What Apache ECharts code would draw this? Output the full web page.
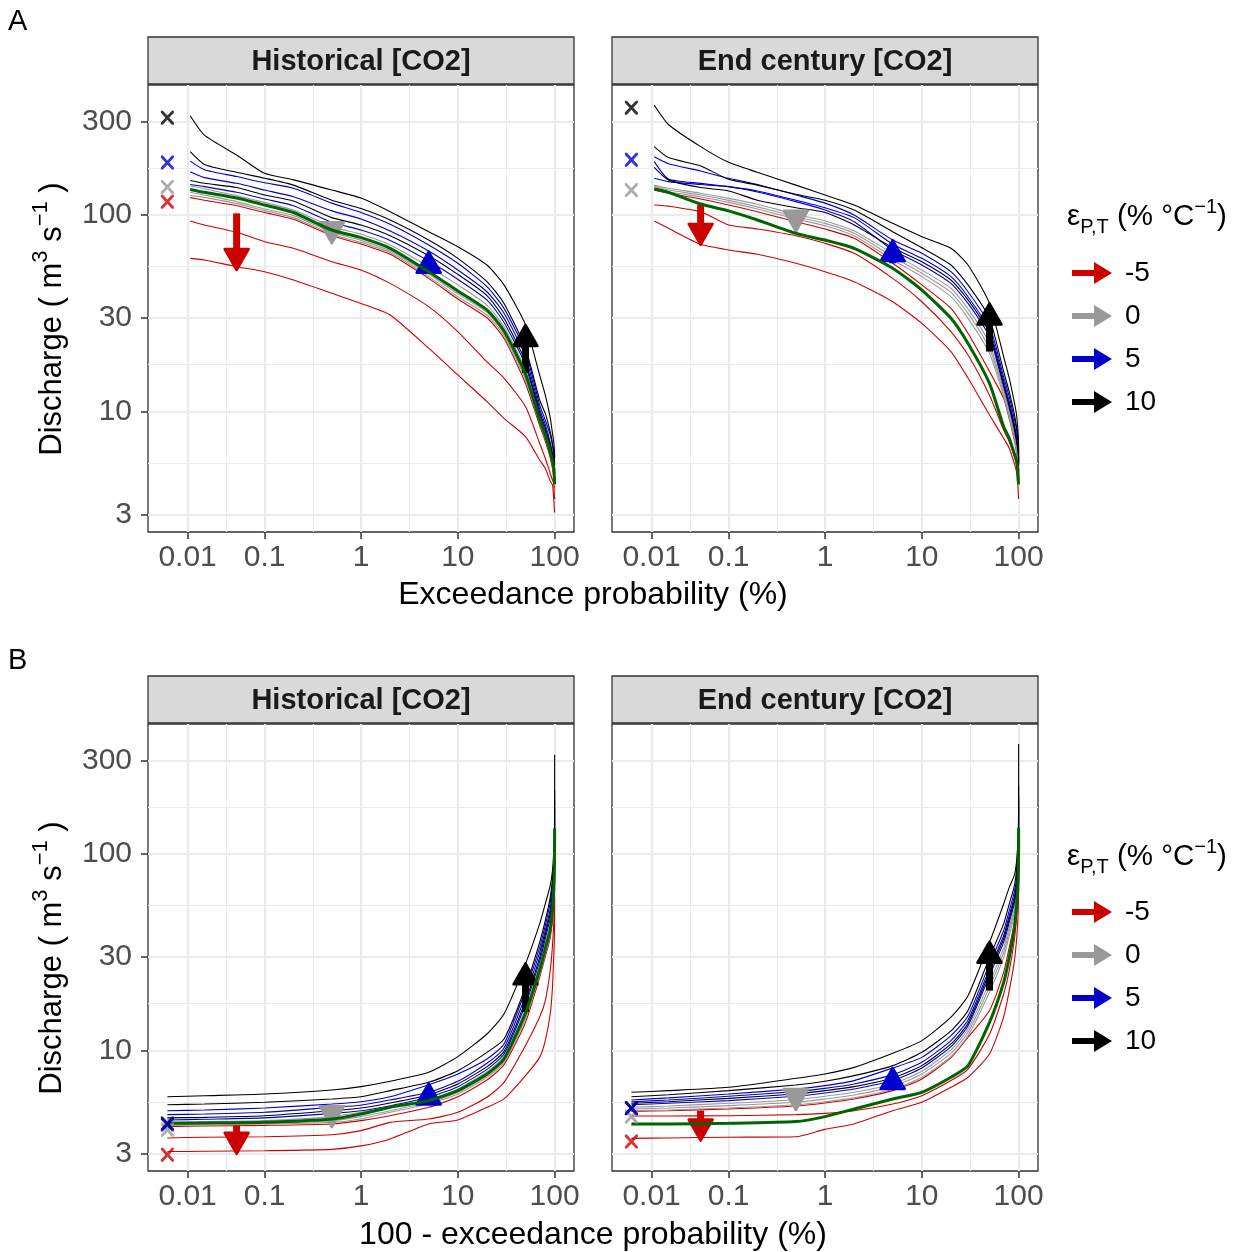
<!DOCTYPE html>
<html>
<head>
<meta charset="utf-8">
<script src="https://cdn.jsdelivr.net/npm/echarts@6/dist/echarts.min.js"></script>
<style>
  html, body { margin: 0; padding: 0; background: #ffffff; }
  #chart { width: 1237px; height: 1252px; }
</style>
</head>
<body>
<div id="chart"></div>
<script>
// Flow-duration curves: discharge (m3/s) at each exceedance probability (%).
// Panel A plots them against p, panel B against 100 - p.
const probs = [0.0114, 0.02, 0.05, 0.1, 0.2, 0.5, 1, 2, 5, 10, 20, 30, 50, 70, 80, 90, 95, 98, 99, 99.5, 99.9, 99.98, 100];

// Historical [CO2]
const histBase = [135, 130.5, 122, 112.5, 103, 83.9, 76.7, 67.7, 51.5, 41.1, 32.9, 25.7, 15.5, 9.06, 7.60, 6.25, 5.56, 5.14, 4.75, 4.48, 4.31, 4.28, 4.26];
const histEps10a = [320, 255, 202, 163, 151, 134, 122, 104, 82.3, 69.0, 55.7, 44.1, 27.6, 15.35, 12.14, 9.31, 7.75, 6.97, 6.55, 6.30, 6.01, 5.89, 5.82];
const histEps10b = [210, 181, 165, 154, 142, 119, 108, 94.4, 74.6, 60.2, 45.8, 35.5, 21.0, 11.45, 9.79, 7.90, 6.89, 6.25, 5.82, 5.67, 5.45, 5.34, 5.30];
const histEps10c = [150, 145, 138, 126.5, 118, 97.0, 89.0, 78.5, 62.1, 49.9, 38.9, 29.8, 17.9, 9.9, 8.28, 6.76, 5.94, 5.41, 5.10, 4.94, 4.66, 4.57, 4.54];
const histEps5a = [188, 170, 157, 146, 137, 115, 103, 89.7, 70.4, 56.8, 43.2, 33.5, 20.2, 10.8, 9.06, 7.6, 6.7, 5.82, 5.49, 5.34, 5.10, 4.98, 4.94];
const histEps5b = [166, 155, 145, 134, 124, 105, 95.5, 82.9, 65.6, 52.5, 40.7, 31.6, 19.0, 10.3, 8.61, 6.97, 6.13, 5.60, 5.27, 5.14, 4.85, 4.75, 4.72];
const histEps5c = [143, 139.5, 130.5, 120.7, 111.6, 91.8, 83.9, 74.3, 58.4, 47.1, 37.0, 28.4, 17.2, 9.60, 8.02, 6.55, 5.78, 5.24, 4.94, 4.79, 4.54, 4.47, 4.43];
const histEps0a = [141, 136, 125.5, 116, 106, 87.3, 79.8, 70.4, 54.6, 44.1, 34.8, 27.0, 16.3, 9.31, 7.81, 6.37, 5.60, 5.14, 4.85, 4.61, 4.40, 4.35, 4.31];
const histEps0b = [130.5, 126.5, 117, 107.3, 99.3, 81.7, 74.3, 65.6, 49.9, 39.7, 32.0, 25.0, 15.0, 8.88, 7.45, 6.13, 5.45, 4.94, 4.61, 4.40, 4.26, 4.23, 4.20];
const histEps0c = [125.5, 123, 114.3, 105.3, 97.0, 79.8, 72.6, 64.4, 48.6, 38.4, 31.0, 24.3, 14.5, 8.71, 7.31, 6.01, 5.34, 4.85, 4.48, 4.31, 4.23, 4.18, 4.15];
const histEpsM5a = [122.6, 119, 111.6, 103, 95.1, 78.5, 71.2, 63.1, 47.6, 37.4, 30.0, 23.6, 13.9, 8.48, 7.08, 5.82, 5.14, 4.66, 4.40, 4.23, 4.16, 4.13, 4.10];
const histEpsM5b = [93.3, 89.0, 81.7, 73.2, 67.7, 57.9, 52.5, 44.9, 34.2, 25.5, 17.9, 14.8, 10.6, 6.89, 5.78, 4.85, 4.48, 4.31, 3.91, 3.73, 3.64, 3.62, 3.59];
const histEpsM5c = [60.2, 59.1, 54.6, 51.5, 46.7, 40.0, 35.5, 31.0, 21.0, 15.35, 11.23, 9.23, 7.45, 5.67, 5.14, 4.43, 4.23, 3.55, 3.27, 3.14, 3.09, 3.07, 3.06];

// End century [CO2]
const endBase = [136, 130.5, 113.8, 105, 94.4, 80.7, 74.6, 67.7, 53.6, 41.5, 29.8, 22.2, 13.9, 8.38, 7.31, 6.13, 5.67, 5.04, 4.61, 4.35, 4.26, 4.23, 4.23];
const endEps10a = [363, 289, 223, 185.4, 165, 142, 126.5, 112.5, 90.7, 77.6, 67.7, 55.7, 35.5, 19.0, 14.8, 11.23, 9.68, 8.21, 7.60, 7.22, 6.50, 6.25, 6.13];
const endEps10b = [223, 196, 177.7, 152, 142, 127.5, 119, 106, 82.3, 68.2, 55.7, 44.1, 29.8, 16.0, 12.6, 9.79, 8.38, 7.45, 6.97, 6.68, 6.25, 5.96, 5.82];
const endEps10c = [175, 151, 138, 132.6, 119, 109, 103, 89.0, 68.2, 57.9, 46.7, 37.0, 25.0, 13.76, 10.8, 8.38, 7.25, 6.55, 6.25, 6.01, 5.71, 5.49, 5.39];
const endEps5a = [198, 182.6, 167.5, 153.8, 143, 126.5, 115, 100, 74.6, 63.9, 51.5, 40.7, 27.6, 15.0, 11.9, 9.23, 8.15, 7.03, 6.63, 6.37, 6.01, 5.74, 5.60];
const endEps5b = [186.9, 152.6, 145, 139.5, 132.6, 119, 109, 97.0, 71.0, 60.2, 48.6, 38.4, 26.0, 14.3, 11.23, 8.71, 7.54, 6.76, 6.42, 6.18, 5.85, 5.60, 5.49];
const endEps5c = [153.8, 147.9, 143, 139.5, 131, 117, 106, 92.5, 66.4, 55.7, 44.9, 35.5, 24.0, 13.38, 10.47, 8.15, 7.03, 6.37, 6.08, 5.85, 5.56, 5.39, 5.30];
const endEps0a = [142, 136.8, 129, 121.6, 113.4, 100.8, 93.3, 82.9, 63.9, 52.5, 42.4, 33.3, 22.2, 12.87, 10.07, 7.84, 6.76, 6.13, 5.85, 5.62, 5.39, 5.22, 5.14];
const endEps0b = [140, 134, 126.5, 118.8, 110, 98.1, 90.7, 80.7, 61.4, 50.5, 40.4, 31.6, 21.0, 12.38, 9.68, 7.60, 6.55, 5.94, 5.67, 5.45, 5.24, 5.10, 5.04];
const endEps0c = [137.3, 131.5, 123.5, 116, 107.3, 95.5, 88.3, 78.5, 59.1, 48.6, 38.4, 29.8, 19.8, 11.91, 9.31, 7.31, 6.35, 5.74, 5.49, 5.30, 5.10, 4.98, 4.94];
const endEpsM5a = [133.6, 129, 120.7, 112.5, 104, 92.5, 84.9, 76.1, 56.8, 44.1, 33.5, 25.0, 16.0, 11.67, 9.2, 7.17, 6.25, 5.67, 5.41, 5.22, 5.04, 4.94, 4.90];
const endEpsM5b = [112.5, 111, 104, 89.0, 84.9, 78.5, 71.8, 63.9, 47.6, 36.2, 25.5, 19.4, 12.1, 8.05, 7.03, 5.89, 5.34, 4.94, 4.79, 4.72, 4.66, 4.64, 4.64];
const endEpsM5c = [93.3, 85.6, 71, 66.4, 63.1, 56.8, 51.5, 45.8, 36.2, 28.1, 20.2, 14.8, 9.60, 7.31, 6.50, 5.45, 4.94, 4.23, 3.97, 3.64, 3.62, 3.59, 3.57];

// Arrows (per elasticity -5, 0, 5, 10): x position and discharge at tail / head
const arrowX = [0.05, 0.5, 5, 50];
const arrowFromHistA = [102, 83.9, 51.5, 15.7];
const arrowToHistA = [52.5, 71.8, 65.1, 27.6];
const arrowFromEndA = [112.5, 98, 56.8, 20.2];
const arrowToEndA = [70.4, 82.3, 74.6, 35.5];
const arrowFromHistB = [4.15, 4.40, 5.56, 15.7];
const arrowToHistB = [2.98, 4.07, 6.8, 27.8];
const arrowFromEndB = [4.94, 5.5, 6.30, 20.2];
const arrowToEndB = [3.48, 4.98, 8.15, 35.8];

// "x" markers at x = 0 (per elasticity -5, 0, 5, 10)
const crossHistA = [117, 139, 185, 313];
const crossEndA = [null, 134, 191, 352];
const crossHistB = [2.95, 3.95, 4.2, 4.25];
const crossEndB = [3.44, 4.61, 5.08, 5.1];

// Axis breaks
const xMajor = [0.01, 0.1, 1, 10, 100];
const xMajorLabels = ['0.01', '0.1', '1', '10', '100'];
const yMajor = [3, 10, 30, 100, 300];
const yMajorLabels = ['3', '10', '30', '100', '300'];

const epsNames = ['-5', '0', '5', '10'];
const epsColors = ['#CD0000', '#999999', '#0000CD', '#000000'];
const baseColor = '#006400';

const FONT = '"Liberation Sans", Arial, Helvetica, sans-serif';

// Pseudo-log x scale (sigma = 0.01): log-like above ~0.05 %, linear through 0.
const SIGMA = 0.01;
const pl = x => Math.asinh(x / (2 * SIGMA)) / Math.LN10;
const xMin = pl(0) - 0.05 * (pl(100) - pl(0));
const xMax = pl(100) + 0.05 * (pl(100) - pl(0));
const xMajorT = xMajor.map(pl);
const xMinorT = xMajorT.slice(1).map((t, i) => (xMajorT[i] + t) / 2);
// log y scale
const yMin = 2.437, yMax = 459;
const yMinor = yMajor.slice(1).map((v, i) => Math.sqrt(v * yMajor[i]));

const panels = [
  { left: 148, top: 85, curves: 'hist', mirror: false, showY: true,
    arrowFrom: arrowFromHistA, arrowTo: arrowToHistA, cross: crossHistA },
  { left: 612, top: 85, curves: 'end', mirror: false, showY: false,
    arrowFrom: arrowFromEndA, arrowTo: arrowToEndA, cross: crossEndA },
  { left: 148, top: 724, curves: 'hist', mirror: true, showY: true,
    arrowFrom: arrowFromHistB, arrowTo: arrowToHistB, cross: crossHistB },
  { left: 612, top: 724, curves: 'end', mirror: true, showY: false,
    arrowFrom: arrowFromEndB, arrowTo: arrowToEndB, cross: crossEndB }
];
const PW = 426, PH = 447;

const curveSets = {
  hist: {
    base: histBase,
    groups: [[histEpsM5a, histEpsM5b, histEpsM5c], [histEps0a, histEps0b, histEps0c],
             [histEps5a, histEps5b, histEps5c], [histEps10a, histEps10b, histEps10c]]
  },
  end: {
    base: endBase,
    groups: [[endEpsM5a, endEpsM5b, endEpsM5c], [endEps0a, endEps0b, endEps0c],
             [endEps5a, endEps5b, endEps5c], [endEps10a, endEps10b, endEps10c]]
  }
};

const grids = [], xAxes = [], yAxes = [], series = [];
const gridLineColor = '#EBEBEB';
const tickStyle = { color: '#333333', width: 1.5 };
const SMOOTH = 0.2;

panels.forEach((pn, i) => {
  grids.push({ left: pn.left, top: pn.top, width: PW, height: PH, show: true,
    borderColor: '#333333', borderWidth: 1.3, backgroundColor: '#ffffff', containLabel: false });
  const xi = xAxes.length;
  xAxes.push({
    gridIndex: i, type: 'value', min: xMin, max: xMax, position: 'bottom',
    axisLine: { show: false, onZero: false },
    axisTick: { show: true, customValues: xMajorT, length: 7, lineStyle: tickStyle },
    axisLabel: { customValues: xMajorT, margin: 11, fontSize: 30, color: '#4D4D4D', fontFamily: FONT,
      formatter: v => { const k = xMajorT.findIndex(t => Math.abs(t - v) < 1e-6); return k >= 0 ? xMajorLabels[k] : ''; } },
    splitLine: { show: true, lineStyle: { color: gridLineColor, width: 2.2 } }
  });
  xAxes.push({
    gridIndex: i, type: 'value', min: xMin, max: xMax, position: 'bottom',
    axisLine: { show: false, onZero: false }, axisLabel: { show: false },
    axisTick: { show: false, customValues: xMinorT },
    splitLine: { show: true, lineStyle: { color: gridLineColor, width: 1.1 } }
  });
  const yi = yAxes.length;
  yAxes.push({
    gridIndex: i, type: 'log', logBase: 10, min: yMin, max: yMax, position: 'left',
    axisLine: { show: false, onZero: false },
    axisTick: { show: pn.showY, customValues: yMajor, length: 7, lineStyle: tickStyle },
    axisLabel: { show: pn.showY, customValues: yMajor, margin: 16, fontSize: 30, color: '#4D4D4D', fontFamily: FONT,
      formatter: v => { const k = yMajor.findIndex(t => Math.abs(t - v) / t < 1e-6); return k >= 0 ? yMajorLabels[k] : ''; } },
    splitLine: { show: true, lineStyle: { color: gridLineColor, width: 2.2 } }
  });
  yAxes.push({
    gridIndex: i, type: 'log', logBase: 10, min: yMin, max: yMax, position: 'right',
    axisLine: { show: false, onZero: false }, axisLabel: { show: false },
    axisTick: { show: false, customValues: yMinor },
    splitLine: { show: true, lineStyle: { color: gridLineColor, width: 1.1 } }
  });

  const xOf = p => pl(pn.mirror ? 100 - p : p);
  const set = curveSets[pn.curves];
  // scenario curves
  set.groups.forEach((grp, g) => {
    grp.forEach((vals) => {
      series.push({
        type: 'line', name: epsNames[g] + ' curve', xAxisIndex: xi, yAxisIndex: yi,
        data: probs.map((p, k) => [xOf(p), vals[k]]),
        symbol: 'none', showSymbol: false, silent: true, z: 2, smooth: SMOOTH,
        lineStyle: { color: epsColors[g], width: 1.1 }
      });
    });
  });
  // arrows
  epsNames.forEach((nm, g) => {
    series.push({
      type: 'custom', name: nm, xAxisIndex: xi, yAxisIndex: yi, z: 3, silent: true,
      itemStyle: { color: epsColors[g] },
      data: [[pl(arrowX[g]), pn.arrowFrom[g], pn.arrowTo[g]]],
      encode: { x: 0, y: [1, 2] },
      renderItem: (params, api) => {
        const x = api.value(0);
        const a = api.coord([x, api.value(1)]);
        const b = api.coord([x, api.value(2)]);
        const dx = b[0] - a[0], dy = b[1] - a[1];
        const len = Math.hypot(dx, dy) || 1;
        const ux = dx / len, uy = dy / len;
        const H = 21, W = 12;
        const base = [b[0] - ux * H, b[1] - uy * H];
        const nx = -uy, ny = ux;
        const color = api.visual('color');
        const children = [];
        if (len > H) {
          children.push({ type: 'line', shape: { x1: a[0], y1: a[1], x2: base[0] + ux * 3, y2: base[1] + uy * 3 },
            style: { stroke: color, lineWidth: 7, lineCap: 'butt' } });
        }
        children.push({ type: 'polygon',
          shape: { points: [b, [base[0] + nx * W, base[1] + ny * W], [base[0] - nx * W, base[1] - ny * W]] },
          style: { fill: color, stroke: color, lineWidth: 2.5, lineJoin: 'round' } });
        return { type: 'group', children };
      }
    });
  });
  // baseline curve
  series.push({
    type: 'line', name: 'baseline', xAxisIndex: xi, yAxisIndex: yi,
    data: probs.map((p, k) => [xOf(p), set.base[k]]),
    symbol: 'none', showSymbol: false, silent: true, z: 4, smooth: SMOOTH,
    lineStyle: { color: baseColor, width: 3 }
  });
  // x markers
  [0, 1, 3, 2].forEach(g => {
    if (pn.cross[g] == null) return;
    series.push({
      type: 'scatter', name: epsNames[g] + ' x', xAxisIndex: xi, yAxisIndex: yi, z: 5, silent: true,
      data: [[pl(0), pn.cross[g]]],
      symbol: 'path://M0,0 L3,0 L10,7 L17,0 L20,0 L20,3 L13,10 L20,17 L20,20 L17,20 L10,13 L3,20 L0,20 L0,17 L7,10 L0,3 Z',
      symbolSize: [13, 14],
      itemStyle: { color: epsColors[g] }
    });
  });
});

const arrowIcon = 'path://M0,8 L22,8 L22,0 L40,11 L22,22 L22,14 L0,14 Z';
const legendData = epsNames.map((nm, g) => ({ name: nm, icon: arrowIcon, itemStyle: { color: epsColors[g] } }));
const legendBase = {
  orient: 'vertical', left: 1072, padding: 0, itemWidth: 40, itemHeight: 23, itemGap: 15,
  selectedMode: false, data: legendData,
  textStyle: { fontSize: 28, fontFamily: FONT, color: '#000000', padding: [0, 0, 0, 8] }
};

function legendTitle(y) {
  return {
    type: 'text', x: 1067, y: y,
    style: {
      text: '{m|ε}{s|P,T}{m| (% °C}{u|−1}{m|)}',
      fontFamily: FONT, fontSize: 29, fill: '#000', verticalAlign: 'middle',
      rich: {
        m: { fontSize: 29.5, fontFamily: FONT, lineHeight: 40, verticalAlign: 'middle' },
        s: { fontSize: 20, fontFamily: FONT, lineHeight: 20, verticalAlign: 'bottom' },
        u: { fontSize: 20, fontFamily: FONT, lineHeight: 20, verticalAlign: 'top' }
      }
    }
  };
}
function yTitle(cy) {
  return {
    type: 'text', x: 52, y: cy, rotation: Math.PI / 2,
    style: {
      text: '{m|Discharge ( m}{u|3}{m| s}{u|−1}{m| )}',
      fontFamily: FONT, fontSize: 31, fill: '#000', align: 'center', verticalAlign: 'middle',
      rich: {
        m: { fontSize: 31, fontFamily: FONT, lineHeight: 44, verticalAlign: 'middle' },
        u: { fontSize: 22, fontFamily: FONT, lineHeight: 22, verticalAlign: 'top' }
      }
    }
  };
}
function strip(x, y, label) {
  return [
    { type: 'rect', shape: { x: x, y: y, width: PW, height: 47 },
      style: { fill: '#D9D9D9', stroke: '#333333', lineWidth: 1.3 } },
    { type: 'text', x: x + PW / 2, y: y + 25,
      style: { text: label, fontFamily: FONT, fontSize: 29, fontWeight: 'bold', fill: '#1A1A1A',
        align: 'center', verticalAlign: 'middle' } }
  ];
}
const plain = (x, y, t, size, align) => ({
  type: 'text', x: x, y: y,
  style: { text: t, fontFamily: FONT, fontSize: size, fill: '#000', align: align || 'center', verticalAlign: 'middle' }
});

const graphics = [].concat(
  strip(148, 37, 'Historical [CO2]'), strip(612, 37, 'End century [CO2]'),
  strip(148, 676, 'Historical [CO2]'), strip(612, 676, 'End century [CO2]'),
  [plain(8, 22, 'A', 29, 'left'), plain(8, 661, 'B', 29, 'left'),
   plain(593, 595, 'Exceedance probability (%)', 32),
   plain(593, 1235, '100 - exceedance probability (%)', 32),
   yTitle(319), yTitle(958), legendTitle(217), legendTitle(857)]
);

const chart = echarts.init(document.getElementById('chart'), null, { renderer: 'canvas' });
chart.setOption({
  animation: false,
  backgroundColor: '#ffffff',
  grid: grids,
  xAxis: xAxes,
  yAxis: yAxes,
  legend: [Object.assign({ top: 259 }, legendBase), Object.assign({ top: 898 }, legendBase)],
  graphic: { elements: graphics },
  series: series
});
</script>
</body>
</html>
